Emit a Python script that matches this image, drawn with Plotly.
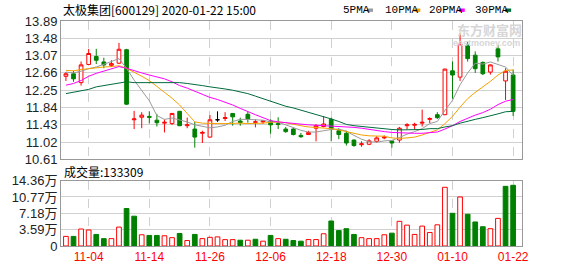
import plotly.graph_objects as go

# ---------------- data ----------------
dates = ["10-30","10-31","11-01","11-04","11-05","11-06","11-07","11-08","11-11","11-12",
         "11-13","11-14","11-15","11-18","11-19","11-20","11-21","11-22","11-25","11-26",
         "11-27","11-28","11-29","12-02","12-03","12-04","12-05","12-06","12-09","12-10",
         "12-11","12-12","12-13","12-16","12-17","12-18","12-19","12-20","12-23","12-24",
         "12-25","12-26","12-27","12-30","12-31","01-02","01-03","01-06","01-07","01-08",
         "01-09","01-10","01-13","01-14","01-15","01-16","01-17","01-20","01-21","01-22"]

opens = [12.58,12.64,12.43,12.86,13.05,12.92,12.84,12.89,13.21,11.55,
         11.61,11.63,11.54,11.47,11.46,11.75,11.41,11.33,11.23,11.14,
         11.55,11.58,11.70,11.52,11.68,11.49,11.50,11.52,11.46,11.33,
         11.33,11.18,11.20,11.35,11.39,11.56,11.29,11.23,11.07,10.96,
         10.97,11.04,11.12,11.05,11.07,11.41,11.42,11.47,11.56,11.67,
         11.67,12.71,12.56,13.32,13.08,12.91,12.68,13.23,12.47,12.61]
highs = [12.68,12.71,12.93,13.23,13.23,13.02,12.96,13.37,13.23,11.76,
         11.73,11.75,11.69,11.56,11.71,11.76,11.60,11.50,11.29,11.66,
         11.75,11.73,11.70,11.60,11.75,11.56,11.54,11.56,11.61,11.38,
         11.36,11.24,11.29,11.45,11.64,11.60,11.35,11.29,11.08,11.04,
         11.09,11.16,11.18,11.06,11.38,11.47,11.48,11.79,11.61,11.73,
         12.76,12.93,13.61,13.40,13.17,12.93,12.86,13.32,12.77,12.74]
lows = [12.47,12.45,12.36,12.85,12.87,12.77,12.80,12.87,11.90,11.33,
        11.35,11.46,11.39,11.25,11.43,11.40,11.35,10.89,11.00,11.13,
        11.50,11.52,11.41,11.41,11.48,11.37,11.45,11.22,11.33,11.24,
        11.18,11.12,11.19,11.04,11.37,11.04,11.09,10.94,10.91,10.91,
        10.95,11.01,11.09,10.89,11.01,11.32,11.33,11.39,11.47,11.57,
        11.66,12.05,12.47,12.93,12.66,12.61,12.62,12.93,12.02,11.64]
closes = [12.64,12.52,12.85,13.12,12.96,12.85,12.88,13.22,11.92,11.57,
          11.66,11.61,11.48,11.49,11.70,11.41,11.43,11.14,11.25,11.55,
          11.55,11.60,11.62,11.48,11.57,11.50,11.52,11.43,11.44,11.27,
          11.20,11.15,11.25,11.41,11.45,11.33,11.20,11.00,10.94,10.98,
          11.05,11.12,11.14,11.00,11.35,11.43,11.44,11.49,11.58,11.60,
          12.75,12.61,13.34,13.00,12.76,12.64,12.85,13.04,12.70,11.75]

# volume in 手
volumes = [21100,21100,37300,35200,25400,16200,16200,41500,82400,65500,
           24600,23200,23200,22500,18300,27500,12000,25400,16200,19000,
           20000,14000,14000,12700,12700,14800,10600,23200,16200,14800,
           12000,10600,14100,14100,26800,54900,33800,38000,25400,18300,
           16200,16200,24600,28200,54200,45800,25400,43700,29600,46500,
           128900,71800,107700,69700,52800,42300,38000,60600,131000,133309]

# moving averages
ma5 = [12.68,12.66,12.70,12.76,12.80,12.86,12.93,13.00,12.77,12.49,
       12.25,12.00,11.65,11.56,11.59,11.54,11.50,11.43,11.39,11.36,
       11.38,11.42,11.51,11.56,11.56,11.55,11.54,11.50,11.49,11.43,
       11.37,11.30,11.26,11.26,11.29,11.32,11.33,11.28,11.18,11.09,
       11.03,11.02,11.05,11.06,11.13,11.21,11.27,11.34,11.46,11.51,
       11.77,12.01,12.38,12.66,12.89,12.87,12.92,12.86,12.80,12.60]
ma10 = [12.72,12.71,12.74,12.76,12.79,12.80,12.81,12.83,12.77,12.68,
        12.58,12.48,12.35,12.20,12.06,11.90,11.70,11.50,11.47,11.46,
        11.46,11.46,11.47,11.47,11.46,11.46,11.47,11.49,11.50,11.48,
        11.44,11.41,11.38,11.37,11.36,11.34,11.31,11.27,11.22,11.19,
        11.17,11.17,11.16,11.12,11.11,11.12,11.14,11.19,11.25,11.31,
        11.46,11.63,11.85,12.05,12.20,12.32,12.46,12.61,12.72,12.73]
ma20 = [12.37,12.41,12.48,12.58,12.65,12.70,12.75,12.81,12.77,12.71,
        12.66,12.61,12.56,12.52,12.45,12.36,12.30,12.23,12.15,12.08,
        12.03,11.97,11.90,11.82,11.74,11.67,11.60,11.53,11.50,11.48,
        11.46,11.44,11.43,11.42,11.41,11.41,11.40,11.39,11.37,11.35,
        11.32,11.30,11.27,11.25,11.24,11.23,11.23,11.23,11.24,11.26,
        11.33,11.41,11.51,11.59,11.66,11.72,11.80,11.91,11.99,12.03]
ma30 = [12.17,12.20,12.23,12.27,12.33,12.36,12.38,12.41,12.45,12.43,
        12.43,12.43,12.43,12.44,12.43,12.43,12.41,12.39,12.36,12.33,
        12.31,12.28,12.25,12.21,12.17,12.11,12.05,11.99,11.92,11.87,
        11.83,11.78,11.73,11.67,11.62,11.57,11.51,11.44,11.41,11.39,
        11.37,11.35,11.34,11.32,11.31,11.31,11.31,11.32,11.34,11.34,
        11.38,11.41,11.47,11.52,11.56,11.60,11.64,11.69,11.74,11.75]

price_ticks = [10.61, 11.02, 11.43, 11.84, 12.25, 12.66, 13.07, 13.48, 13.89]
vol_ticks = [0, 35900, 71800, 107700, 143600]
vol_tick_text = ["0", "3.59万", "7.18万", "10.77万", "14.36万"]
date_ticks = ["11-04", "11-14", "11-26", "12-06", "12-18", "12-30", "01-10", "01-22"]

title_text = "太极集团[600129] 2020-01-22 15:00"
vol_label = "成交量:133309"
ma_names = ["5PMA", "10PMA", "20PMA", "30PMA"]

# ---------------- style ----------------
RED = "#ff0000"
GREEN = "#008000"
MA_COLORS = ["#999999", "#f5a000", "#ff00ff", "#006b3c"]
GRID = "#d0d0d0"
FRAME = "#999999"

W, H = 578, 276
L, R, T, B = 55, 56, 21, 21
plot_h = H - T - B
plot_w = W - L - R


def px(x):
    return (x - L) / plot_w


def py(y):
    return (H - B - y) / plot_h


fig = go.Figure()

# candles (non-doji)
idx = [i for i in range(len(dates)) if opens[i] != closes[i]]
fig.add_trace(go.Candlestick(
    x=[dates[i] for i in idx], open=[opens[i] for i in idx], high=[highs[i] for i in idx],
    low=[lows[i] for i in idx], close=[closes[i] for i in idx],
    increasing=dict(line=dict(color=RED, width=1), fillcolor="white"),
    decreasing=dict(line=dict(color=GREEN, width=1), fillcolor=GREEN),
    whiskerwidth=0, xaxis="x", yaxis="y", showlegend=False, hoverinfo="skip"))

# doji (open == close) drawn black
didx = [i for i in range(len(dates)) if opens[i] == closes[i]]
if didx:
    fig.add_trace(go.Candlestick(
        x=[dates[i] for i in didx], open=[opens[i] for i in didx], high=[highs[i] for i in didx],
        low=[lows[i] for i in didx], close=[closes[i] for i in didx],
        increasing=dict(line=dict(color="black", width=1), fillcolor="black"),
        decreasing=dict(line=dict(color="black", width=1), fillcolor="black"),
        whiskerwidth=0, xaxis="x", yaxis="y", showlegend=False, hoverinfo="skip"))

for name, vals, col in zip(ma_names, [ma5, ma10, ma20, ma30], MA_COLORS):
    fig.add_trace(go.Scatter(x=dates, y=vals, mode="lines", line=dict(color=col, width=1),
                             xaxis="x", yaxis="y", showlegend=False, hoverinfo="skip", name=name))

# volume colours: up vs previous close -> red hollow, down -> green filled
vol_up = []
for i in range(len(closes)):
    ref = closes[i - 1] if i > 0 else opens[0]
    vol_up.append(closes[i] >= ref)
fig.add_trace(go.Bar(
    x=dates, y=volumes, width=0.62,
    marker=dict(color=["white" if u else GREEN for u in vol_up],
                line=dict(color=[RED if u else GREEN for u in vol_up], width=1)),
    xaxis="x2", yaxis="y2", showlegend=False, hoverinfo="skip"))

xr = [-0.65, len(dates) - 1 + 1.17]
common_x = dict(type="category", categoryorder="array", categoryarray=dates,
                range=xr, tickmode="array", tickvals=date_ticks,
                showgrid=True, gridcolor=GRID, griddash="dash", gridwidth=1,
                showline=True, linecolor=FRAME, linewidth=1, mirror=True,
                ticks="", zeroline=False, fixedrange=True)

fig.update_layout(
    width=W, height=H, margin=dict(l=L, r=R, t=T, b=B),
    paper_bgcolor="white", plot_bgcolor="white",
    font=dict(family="Liberation Sans, Noto Sans CJK SC", size=13, color="#000000"),
    xaxis=dict(**common_x, domain=[0, 1], anchor="y", showticklabels=False,
               rangeslider=dict(visible=False)),
    yaxis=dict(domain=[py(165), 1], range=[price_ticks[0], price_ticks[-1]],
               tickmode="array", tickvals=price_ticks,
               ticktext=["%.2f" % v for v in price_ticks],
               showgrid=True, gridcolor=GRID, gridwidth=1,
               showline=True, linecolor=FRAME, linewidth=1, mirror=True,
               ticks="", zeroline=False, fixedrange=True,
               tickfont=dict(size=13, color="#222222")),
    xaxis2=dict(**common_x, domain=[0, 1], anchor="y2", showticklabels=True,
                tickfont=dict(size=12, color=RED)),
    yaxis2=dict(domain=[0, py(187)], range=[0, vol_ticks[-1]],
                tickmode="array", tickvals=vol_ticks, ticktext=vol_tick_text,
                showgrid=True, gridcolor=GRID, gridwidth=1,
                showline=True, linecolor=FRAME, linewidth=1, mirror=True,
                ticks="", zeroline=False, fixedrange=True,
                tickfont=dict(size=13, color="#222222")),
    bargap=0.3,
)

ann = []
ann.append(dict(text=title_text, x=px(55), y=py(9.5), xref="paper", yref="paper",
                xanchor="left", yanchor="middle", showarrow=False,
                font=dict(family="Noto Sans CJK SC", size=12, color="#000000")))
ann.append(dict(text=vol_label, x=px(56), y=py(177), xref="paper", yref="paper",
                xanchor="left", yanchor="middle", showarrow=False,
                font=dict(family="Noto Sans CJK SC", size=12, color="#000000")))
leg_x = [339, 381, 426, 472]
sq_x = [365, 413, 458, 505]
shapes = []
for name, lx, sx, col in zip(ma_names, leg_x, sq_x, MA_COLORS):
    ann.append(dict(text=name, x=px(lx), y=py(9.5), xref="paper", yref="paper",
                    xanchor="left", yanchor="middle", showarrow=False,
                    font=dict(family="Liberation Mono", size=11, color="#000000")))
    shapes.append(dict(type="rect", xref="paper", yref="paper",
                       x0=px(sx), x1=px(sx + 6), y0=py(11.5), y1=py(8),
                       fillcolor=col, line=dict(width=0)))
# watermark
ann.append(dict(text="<b>东方财富网</b>", x=px(489), y=py(30), xref="paper", yref="paper",
                xanchor="center", yanchor="middle", showarrow=False,
                font=dict(family="Noto Sans CJK SC", size=13, color="#d6d6d6")))
ann.append(dict(text="<b>eastmoney.com</b>", x=px(486), y=py(43.5), xref="paper", yref="paper",
                xanchor="center", yanchor="middle", showarrow=False,
                font=dict(family="Liberation Sans", size=9, color="#d6d6d6")))
fig.update_layout(annotations=ann, shapes=shapes)

fig.write_html("out.html")
